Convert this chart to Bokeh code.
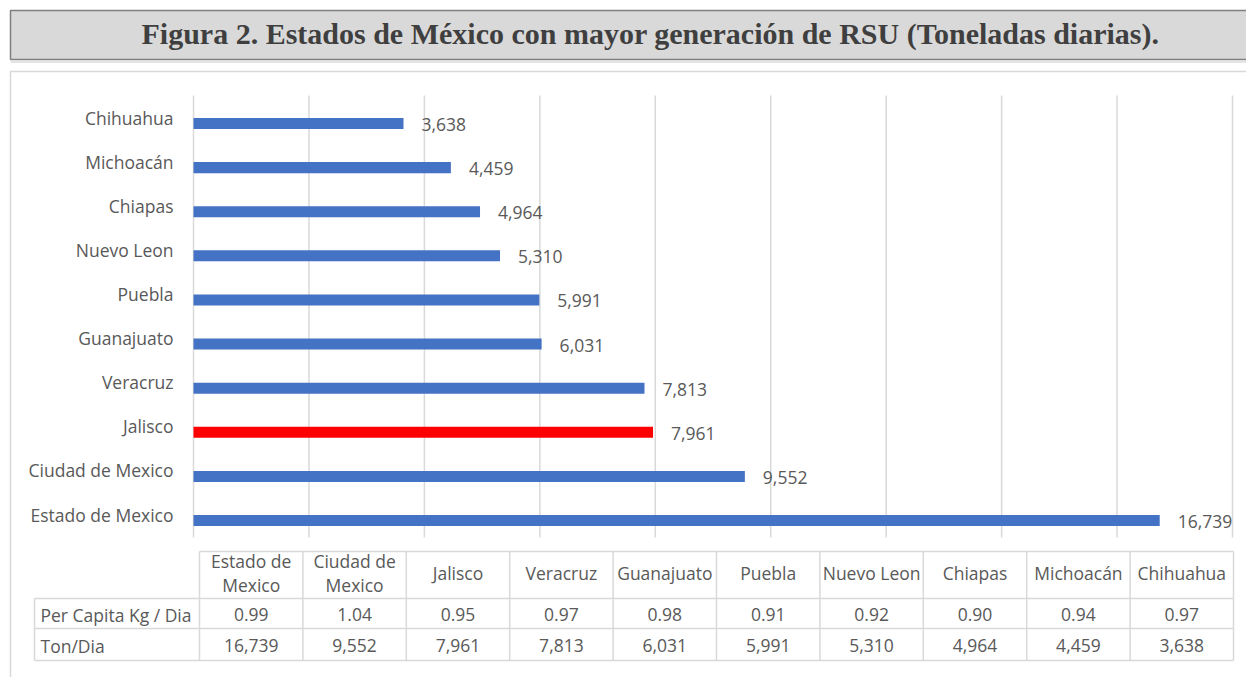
import numpy as np
from bokeh.plotting import figure
from bokeh.models import Range1d
from bokeh.core.properties import value
from bokeh.embed import file_html
from bokeh.resources import INLINE

# ---------------- data ----------------
title_text = "Figura 2. Estados de México con mayor generación de RSU (Toneladas diarias)."
states = ["Estado de Mexico", "Ciudad de Mexico", "Jalisco", "Veracruz", "Guanajuato",
          "Puebla", "Nuevo Leon", "Chiapas", "Michoacán", "Chihuahua"]
ton_dia = [16739, 9552, 7961, 7813, 6031, 5991, 5310, 4964, 4459, 3638]
per_capita = [0.99, 1.04, 0.95, 0.97, 0.98, 0.91, 0.92, 0.90, 0.94, 0.97]
highlight = "Jalisco"
row_labels = ["Per Capita Kg / Dia", "Ton/Dia"]
x_max = 18000
x_step = 2000

# ---------------- layout (page pixels) ----------------
OFF = 0
W, H = 1246, 677
PLOT_L, PLOT_R = 193, 1232          # page x of 0 and x_max
ROW_TOP, ROW_BOT = 123, 520         # page y of top / bottom category
GRID_TOP, GRID_BOT = 95, 537
TBL_L, TBL_C0, TBL_R = 34, 199, 1233
TBL_Y = [551, 598, 628, 660]

BLUE = "#4472C4"
RED = "#FF0000"
GRID = "#d9d9d9"
TXT = "#595959"
FONT = value("Open Sans")
FS = "17.5px"

n = len(states)
idx = np.arange(n)
upp = x_max / (PLOT_R - PLOT_L)
x_start = -(PLOT_L - OFF) * upp
x_end = x_start + W * upp
ppu = (ROW_BOT - ROW_TOP) / (n - 1)
y_end = (n - 1) + (ROW_TOP - OFF) / ppu
y_start = -(OFF + H - ROW_BOT) / ppu

p = figure(width=W, height=H, title=None,
           x_range=Range1d(x_start, x_end), y_range=Range1d(y_start, y_end),
           x_axis_type=None, y_axis_type=None, min_border=0,
           toolbar_location=None, output_backend="svg", outline_line_color=None)
p.extra_x_ranges = {"px": Range1d(OFF, OFF + W)}
p.extra_y_ranges = {"px": Range1d(OFF + H, OFF)}
PX = dict(x_range_name="px", y_range_name="px")

# title box
p.quad(left=[10], right=[1252], top=[10], bottom=[59], fill_color="#d9d9d9",
       line_color="#7f7f7f", line_width=1.5, **PX)
p.segment(x0=[10], x1=[1252], y0=[61.5], y1=[61.5], line_color="#e4e4e4", line_width=2, **PX)
p.text(x=[650], y=[33], text=[title_text], text_font=value("Liberation Serif"),
       text_font_style="bold", text_font_size="30px", text_color="#3f3f3f",
       text_align="center", text_baseline="middle", **PX)

# chart box
p.quad(left=[10], right=[1247], top=[71], bottom=[700], fill_color="white",
       line_color="#d9d9d9", line_width=1.5, **PX)

# gridlines
ticks = np.arange(0, x_max + 1, x_step)
p.segment(x0=ticks, x1=ticks, y0=[GRID_TOP] * len(ticks), y1=[GRID_BOT] * len(ticks),
          line_color=GRID, line_width=1.5, y_range_name="px")

# bars
colors = [RED if s == highlight else BLUE for s in states]
p.hbar(y=idx, left=0, right=ton_dia, height=0.25, fill_color=colors, line_color=None)

# value labels
p.text(x=ton_dia, y=idx, text=[f"{v:,}" for v in ton_dia], x_offset=18, y_offset=1,
       text_font=FONT, text_font_size=FS, text_color=TXT, text_baseline="middle")

# category labels
p.text(x=[173] * n, y=idx, text=states, y_offset=-6, x_range_name="px",
       text_font=FONT, text_font_size=FS, text_color=TXT,
       text_align="right", text_baseline="middle")

# data table
cw = (TBL_R - TBL_C0) / n
col_edges = TBL_C0 + cw * np.arange(n + 1)
col_centers = TBL_C0 + cw * (idx + 0.5)
hx0 = [TBL_C0, TBL_L, TBL_L, TBL_L]
p.segment(x0=hx0, x1=[TBL_R] * 4, y0=TBL_Y, y1=TBL_Y, line_color=GRID, line_width=1.5, **PX)
p.segment(x0=col_edges, x1=col_edges, y0=[TBL_Y[0]] * (n + 1), y1=[TBL_Y[-1]] * (n + 1),
          line_color=GRID, line_width=1.5, **PX)
p.segment(x0=[TBL_L], x1=[TBL_L], y0=[TBL_Y[1]], y1=[TBL_Y[-1]],
          line_color=GRID, line_width=1.5, **PX)


def wrap(s):
    if len(s) > 12:
        a, b = s.rsplit(" ", 1)
        return a + "\n" + b
    return s


p.text(x=col_centers, y=[(TBL_Y[0] + TBL_Y[1]) / 2 - 2] * n, text=[wrap(s) for s in states],
       text_font=FONT, text_font_size=FS, text_color=TXT, text_line_height=0.97,
       text_align="center", text_baseline="middle", **PX)
row_mid = [(TBL_Y[1] + TBL_Y[2]) / 2 + 1, (TBL_Y[2] + TBL_Y[3]) / 2 + 1]
p.text(x=[40, 40], y=row_mid, text=row_labels, text_font=FONT, text_font_size=FS,
       text_color=TXT, text_align="left", text_baseline="middle", **PX)
p.text(x=col_centers, y=[row_mid[0]] * n, text=[f"{v:.2f}" for v in per_capita],
       text_font=FONT, text_font_size=FS, text_color=TXT,
       text_align="center", text_baseline="middle", **PX)
p.text(x=col_centers, y=[row_mid[1]] * n, text=[f"{v:,}" for v in ton_dia],
       text_font=FONT, text_font_size=FS, text_color=TXT,
       text_align="center", text_baseline="middle", **PX)

open("out.html", "w").write(file_html(p, INLINE))
